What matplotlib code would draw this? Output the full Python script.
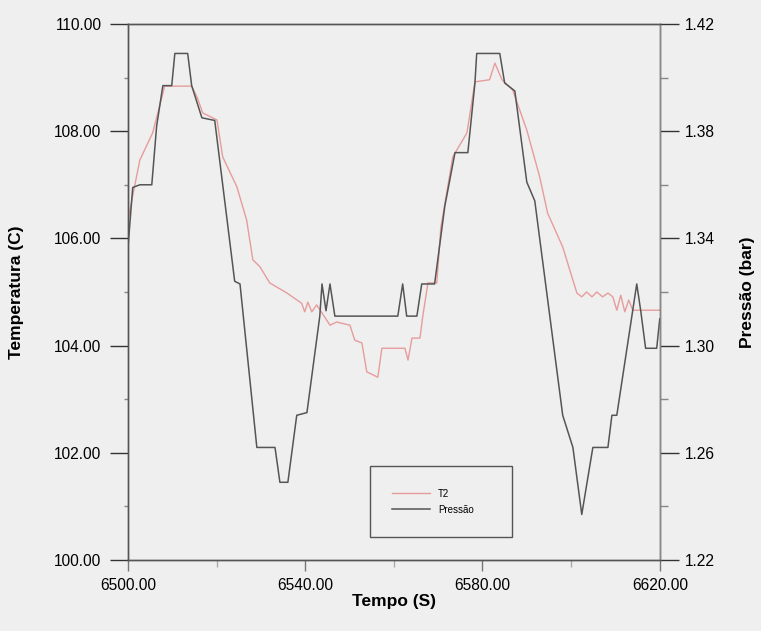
import matplotlib
matplotlib.use("Agg")
import matplotlib.pyplot as plt
from matplotlib.ticker import FormatStrFormatter

plt.rcParams['font.family'] = ['Liberation Sans', 'DejaVu Sans']

# -------------------- Data -------------------- #
t2_time = [6500.0, 6502.7, 6505.6, 6507.7, 6508.3, 6514.4, 6515.6, 6516.9, 6520.1, 6521.4,
           6524.6, 6526.8, 6528.2, 6529.8, 6532.0, 6535.9, 6539.2, 6539.9, 6540.6, 6541.5,
           6542.6, 6543.8, 6545.6, 6547.1, 6550.1, 6551.2, 6552.8, 6553.9, 6556.4, 6557.3,
           6562.5, 6563.2, 6564.1, 6565.9, 6566.5, 6567.7, 6569.7, 6570.6, 6573.3, 6576.5,
           6578.3, 6581.6, 6582.8, 6584.4, 6586.8, 6590.0, 6592.9, 6594.7, 6598.1, 6601.3,
           6602.4, 6603.5, 6604.7, 6605.8, 6607.1, 6608.3, 6609.4, 6610.3, 6611.2, 6612.1,
           6613.0, 6613.9, 6620.0]
t2_temp = [106.34, 107.46, 107.97, 108.64, 108.84, 108.84, 108.64, 108.34, 108.21, 107.52,
           106.96, 106.34, 105.60, 105.47, 105.17, 104.98, 104.79, 104.63, 104.81, 104.63,
           104.76, 104.61, 104.38, 104.44, 104.38, 104.10, 104.05, 103.51, 103.41, 103.95,
           103.95, 103.73, 104.14, 104.14, 104.53, 105.17, 105.17, 106.20, 107.52, 107.97,
           108.92, 108.96, 109.27, 108.96, 108.77, 108.02, 107.15, 106.47, 105.84, 104.98,
           104.91, 105.00, 104.91, 105.00, 104.91, 104.98, 104.91, 104.66, 104.94, 104.63,
           104.85, 104.66, 104.66]

p_time = [6500.0, 6501.1, 6502.7, 6505.4, 6506.5, 6507.9, 6509.9, 6510.6, 6513.5, 6514.4,
          6516.7, 6519.6, 6524.1, 6525.3, 6529.1, 6533.2, 6534.3, 6536.1, 6538.1, 6540.4,
          6543.3, 6543.8, 6544.7, 6545.6, 6546.7, 6560.9, 6562.0, 6562.9, 6565.2, 6566.3,
          6569.2, 6571.5, 6573.8, 6576.7, 6578.3, 6578.7, 6583.9, 6585.0, 6587.3, 6590.0,
          6591.8, 6598.1, 6600.4, 6602.4, 6604.9, 6608.3, 6609.2, 6610.3, 6613.7, 6614.8,
          6615.7, 6616.8, 6619.3, 6620.0]
p_bar = [1.336, 1.359, 1.360, 1.360, 1.382, 1.397, 1.397, 1.409, 1.409, 1.397,
         1.385, 1.384, 1.324, 1.323, 1.262, 1.262, 1.249, 1.249, 1.274, 1.275,
         1.311, 1.323, 1.313, 1.323, 1.311, 1.311, 1.323, 1.311, 1.311, 1.323,
         1.323, 1.352, 1.372, 1.372, 1.398, 1.409, 1.409, 1.398, 1.395, 1.361,
         1.354, 1.274, 1.262, 1.237, 1.262, 1.262, 1.274, 1.274, 1.311, 1.323,
         1.313, 1.299, 1.299, 1.310]

x_major = [6500, 6540, 6580, 6620]
x_minor = [6520, 6560, 6600]
t_major = [100, 102, 104, 106, 108, 110]
t_minor = [101, 103, 105, 107, 109]
p_major = [1.22, 1.26, 1.30, 1.34, 1.38, 1.42]
p_minor = [1.24, 1.28, 1.32, 1.36, 1.40]

bg = "#efefef"
fig = plt.figure(figsize=(7.61, 6.31), dpi=100, facecolor=bg)
ax = fig.add_axes([0.168, 0.1125, 0.699, 0.8495], facecolor=bg)
ax2 = ax.twinx()

# -------------------- Lines -------------------- #
l1, = ax.plot(t2_time, t2_temp, color="#e79c9c", lw=1.0, label="T2")
l2, = ax2.plot(p_time, p_bar, color="#555555", lw=1.1, label="Pressão")

ax.set_xlim(6500, 6620)
ax.set_ylim(100, 110)
ax2.set_ylim(1.22, 1.42)

# -------------------- Ticks -------------------- #
ax.set_xticks(x_major)
ax.set_xticks(x_minor, minor=True)
ax.set_yticks(t_major)
ax.set_yticks(t_minor, minor=True)
ax2.set_yticks(p_major)
ax2.set_yticks(p_minor, minor=True)
ax.xaxis.set_major_formatter(FormatStrFormatter("%.2f"))
ax.yaxis.set_major_formatter(FormatStrFormatter("%.2f"))
ax2.yaxis.set_major_formatter(FormatStrFormatter("%.2f"))

ax.tick_params(axis="y", which="major", direction="out", length=13, width=1,
               pad=6, labelsize=11.2, color="#333333")
ax.tick_params(axis="y", which="minor", direction="out", length=3, width=1, color="#888888")
ax.tick_params(axis="x", which="major", direction="out", length=8, width=1,
               pad=5, labelsize=11.2, color="#777777")
ax.tick_params(axis="x", which="minor", direction="out", length=5, width=1, color="#aaaaaa")
ax2.tick_params(axis="y", which="major", direction="out", length=14, width=1,
                pad=4, labelsize=11.2, color="#333333")
ax2.tick_params(axis="y", which="minor", direction="out", length=6, width=1, color="#888888")

for a in (ax, ax2):
    for s in a.spines.values():
        s.set_color("#555555")
        s.set_linewidth(1.0)
ax2.spines["right"].set_color("#888888")

# -------------------- Labels -------------------- #
ax.set_xlabel("Tempo (S)", fontsize=12.5, fontweight="bold", labelpad=1)
ax.set_ylabel("Temperatura (C)", fontsize=12.5, fontweight="bold")
ax2.set_ylabel("Pressão (bar)", fontsize=12.5, fontweight="bold")
ax.yaxis.set_label_coords(-0.196, 0.5)
ax2.yaxis.set_label_coords(1.150, 0.5)

# -------------------- Legend -------------------- #
leg = ax2.legend(handles=[l1, l2], loc="lower left",
                 bbox_to_anchor=(0.455, 0.043, 0.267, 0.144), mode="expand",
                 fontsize=7, handlelength=3.9, borderpad=2.3, labelspacing=0.6,
                 fancybox=False, framealpha=1, edgecolor="#555555", facecolor=bg,
                 borderaxespad=0)
leg.get_frame().set_linewidth(1.0)

fig.savefig("out.png", dpi=100, facecolor=bg)
